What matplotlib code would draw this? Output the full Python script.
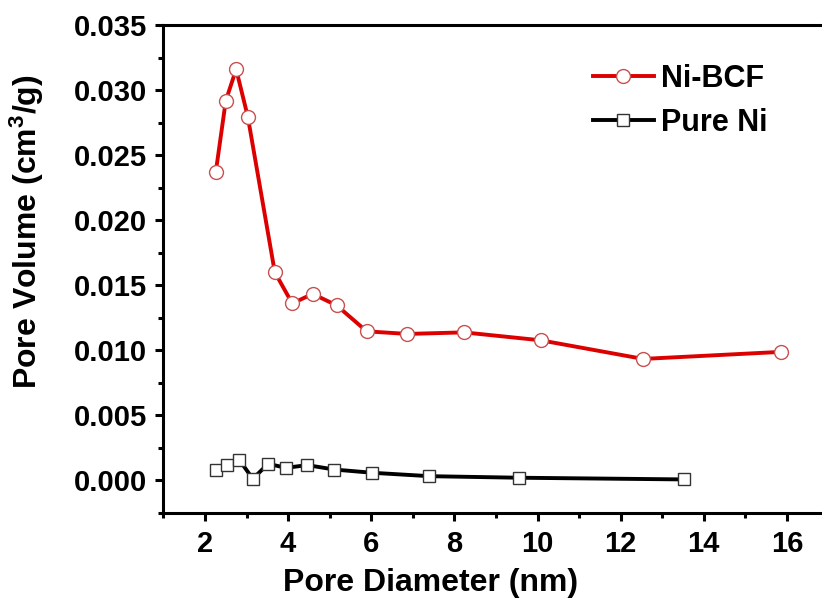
import matplotlib
matplotlib.use("Agg")
import matplotlib.pyplot as plt
from matplotlib.ticker import MultipleLocator, FormatStrFormatter

# Ni-BCF pore size distribution
bcf_d = [2.26, 2.50, 2.75, 3.03, 3.68, 4.10, 4.59, 5.17, 5.89, 6.87, 8.23, 10.08, 12.54, 15.85]
bcf_v = [0.02369, 0.02917, 0.0316, 0.02796, 0.01600, 0.01360, 0.01434, 0.01345, 0.01146,
         0.01126, 0.01138, 0.01077, 0.00934, 0.00988]

# Pure Ni
ni_d = [2.27, 2.53, 2.83, 3.15, 3.52, 3.95, 4.46, 5.11, 6.03, 7.40, 9.56, 13.52]
ni_v = [0.00077, 0.00118, 0.00156, 0.00013, 0.00128, 0.00097, 0.00118, 0.00084,
        0.00059, 0.00033, 0.00021, 0.00008]

plt.rcParams['font.family'] = 'Liberation Sans'
plt.rcParams['font.weight'] = 'bold'
plt.rcParams['mathtext.fontset'] = 'custom'
plt.rcParams['mathtext.rm'] = 'Liberation Sans:bold'
plt.rcParams['mathtext.bf'] = 'Liberation Sans:bold'
plt.rcParams['mathtext.default'] = 'bf'

fig = plt.figure(figsize=(8.22, 6.05), dpi=100)
W, H = 822, 605
ax = fig.add_axes([163.4 / W, 92 / H, 665.1 / W, 488 / H])

ax.plot(bcf_d, bcf_v, color='#dd0000', lw=2.8, marker='o', ms=10,
        mfc='white', mec='#c85050', mew=1.0, label='Ni-BCF')
ax.plot(ni_d, ni_v, color='black', lw=2.8, marker='s', ms=9,
        mfc='white', mec='#333333', mew=1.0, label='Pure Ni')

ax.set_xlim(1, 17)
ax.set_ylim(-0.0025, 0.035)
ax.xaxis.set_major_locator(MultipleLocator(2))
ax.xaxis.set_minor_locator(MultipleLocator(1))
ax.yaxis.set_major_locator(MultipleLocator(0.005))
ax.yaxis.set_minor_locator(MultipleLocator(0.0025))
ax.yaxis.set_major_formatter(FormatStrFormatter('%.3f'))
ax.set_xticks([2, 4, 6, 8, 10, 12, 14, 16])

for s in ax.spines.values():
    s.set_linewidth(2.2)
ax.tick_params(which='major', direction='out', length=6, width=2.2, labelsize=21, pad=6)
ax.tick_params(which='minor', direction='out', length=3.5, width=2.2)
ax.tick_params(axis='x', which='major', pad=6)

ax.set_xlabel('Pore Diameter (nm)', fontsize=23, fontweight='bold')
ax.set_ylabel(r'Pore Volume (cm$^3$/g)', fontsize=23, fontweight='bold')
ax.xaxis.set_label_coords(0.401, -0.112)
ax.yaxis.set_label_coords(-0.176, 0.576)

ax.legend(loc='upper left', bbox_to_anchor=(0.627, 0.945), frameon=False,
          fontsize=22, handlelength=2.0, handletextpad=0.25, labelspacing=0.45,
          borderaxespad=0)

fig.savefig('out.png', dpi=100)
